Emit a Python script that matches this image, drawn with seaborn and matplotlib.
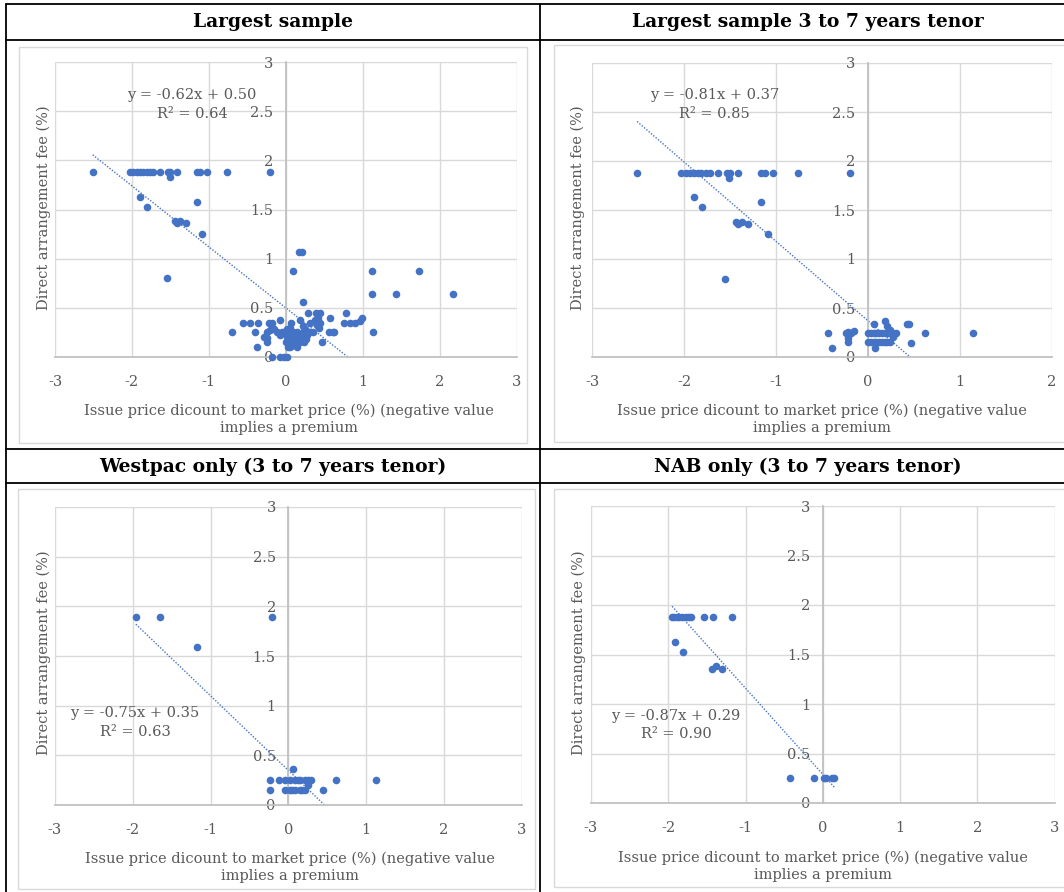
import matplotlib
matplotlib.use("Agg")
import matplotlib.pyplot as plt
from matplotlib.lines import Line2D
from matplotlib.patches import Rectangle
from matplotlib.ticker import FuncFormatter
import seaborn as sns
import pandas as pd

# ---- data ----
# high-fee group, shared by the two "largest sample" panels
hi_x = [-2.51, -2.03, -1.98, -1.94, -1.89, -1.85, -1.81, -1.76, -1.72, -1.63,
        -1.53, -1.50, -1.41, -1.16, -1.12, -1.03, -0.76, -0.20,
        -1.51, -1.89, -1.80, -1.16, -1.44, -1.41, -1.37, -1.30, -1.09, -1.55]
hi_y = [1.88, 1.88, 1.88, 1.88, 1.88, 1.88, 1.88, 1.88, 1.88, 1.88,
        1.88, 1.88, 1.88, 1.88, 1.88, 1.88, 1.88, 1.88,
        1.83, 1.63, 1.53, 1.58, 1.38, 1.36, 1.38, 1.36, 1.25, 0.80]

# low-fee points, full sample
all_lo_x = [0.17, 0.21, 0.09, 1.12, 1.73, 1.12, 1.43, 2.17, 0.22,
            -0.18, -0.07, -0.02, 0.02,
            -0.70, -0.56, -0.47, -0.36, -0.40, -0.37, -0.22, -0.18, -0.08,
            -0.25, -0.24, -0.24, -0.20, -0.15, -0.12, -0.08, -0.05, -0.02,
            0.00, 0.02, 0.04, 0.05, 0.06, 0.07, 0.08, 0.10, 0.10, 0.12,
            0.13, 0.15, 0.16, 0.18, 0.20, 0.22, 0.22, 0.24, 0.25, 0.28,
            0.30, 0.32, 0.35, 0.38, 0.40, 0.42, 0.45, 0.43, 0.29, 0.39,
            0.45, 0.47, 0.57, 0.56, 0.61, 0.63, 0.78, 0.76, 0.83, 0.90,
            0.96, 0.99, 1.14, -0.28, 0.05, 0.14, 0.19, 0.03, 0.09,
            0.06, 0.11, 0.17, 0.26, 0.01]
all_lo_y = [1.07, 1.07, 0.87, 0.87, 0.87, 0.64, 0.64, 0.64, 0.56,
            0.00, 0.00, 0.00, 0.00,
            0.25, 0.35, 0.35, 0.35, 0.25, 0.10, 0.35, 0.35, 0.38,
            0.25, 0.19, 0.15, 0.27, 0.28, 0.25, 0.22, 0.25, 0.25,
            0.15, 0.20, 0.25, 0.15, 0.10, 0.35, 0.20, 0.25, 0.12, 0.15,
            0.20, 0.25, 0.15, 0.38, 0.20, 0.25, 0.32, 0.15, 0.28, 0.22,
            0.25, 0.35, 0.25, 0.38, 0.33, 0.40, 0.35, 0.30, 0.45, 0.45,
            0.45, 0.15, 0.40, 0.25, 0.25, 0.25, 0.45, 0.35, 0.35, 0.35,
            0.37, 0.40, 0.25, 0.20, 0.30, 0.10, 0.15, 0.10, 0.18,
            0.22, 0.18, 0.22, 0.18, 0.28]

# low-fee points, 3 to 7 years tenor
t37_lo_x = [-0.43, -0.39, -0.24, -0.22, -0.18, -0.15, -0.22, -0.22,
            0.00, 0.03, 0.06, 0.09, 0.12, 0.15, 0.18, 0.21, 0.24, 0.27, 0.30,
            0.00, 0.03, 0.06, 0.09, 0.12, 0.15, 0.18, 0.21, 0.24,
            0.07, 0.18, 0.21, 0.24, 0.27, 0.42, 0.45, 0.47, 0.62, 0.08, 1.14]
t37_lo_y = [0.24, 0.09, 0.24, 0.26, 0.24, 0.27, 0.19, 0.15,
            0.24, 0.24, 0.24, 0.24, 0.24, 0.24, 0.24, 0.24, 0.24, 0.24, 0.24,
            0.15, 0.15, 0.15, 0.15, 0.15, 0.15, 0.15, 0.15, 0.15,
            0.34, 0.37, 0.32, 0.28, 0.20, 0.34, 0.34, 0.14, 0.24, 0.09, 0.25]

wbc_x = [-1.96, -1.65, -1.17, -0.21, 0.06, -0.24, -0.23,
         -0.12, -0.04, 0.02, 0.09, 0.15, 0.22, 0.29, 0.12, 0.26,
         -0.04, 0.02, 0.05, 0.09, 0.15, 0.18, 0.22, 0.25,
         0.45, 0.61, 1.13]
wbc_y = [1.89, 1.89, 1.59, 1.89, 0.36, 0.25, 0.15,
         0.25, 0.25, 0.25, 0.25, 0.25, 0.25, 0.25, 0.25, 0.25,
         0.15, 0.15, 0.15, 0.15, 0.15, 0.15, 0.15, 0.20,
         0.15, 0.25, 0.25]

nab_x = [-1.95, -1.92, -1.89, -1.86, -1.82, -1.77, -1.73, -1.71, -1.54, -1.42, -1.17,
         -1.91, -1.81, -1.43, -1.38, -1.30, -0.42, -0.11, 0.01, 0.04, 0.12, 0.15]
nab_y = [1.88, 1.88, 1.88, 1.88, 1.88, 1.88, 1.88, 1.88, 1.88, 1.88, 1.88,
         1.63, 1.53, 1.35, 1.38, 1.35, 0.25, 0.25, 0.25, 0.25, 0.25, 0.25]

titles = ["Largest sample", "Largest sample 3 to 7 years tenor",
          "Westpac only (3 to 7 years tenor)", "NAB only (3 to 7 years tenor)"]
slopes = [-0.62, -0.81, -0.75, -0.87]
intercepts = [0.50, 0.37, 0.35, 0.29]
r_squared = [0.64, 0.85, 0.63, 0.90]
x_limits = [(-3, 3), (-3, 2), (-3, 3), (-3, 3)]
x_label = "Issue price dicount to market price (%) (negative value\nimplies a premium"
y_label = "Direct arrangement fee (%)"

panels = [
    pd.DataFrame({"x": hi_x + all_lo_x, "y": hi_y + all_lo_y}),
    pd.DataFrame({"x": hi_x + t37_lo_x, "y": hi_y + t37_lo_y}),
    pd.DataFrame({"x": wbc_x, "y": wbc_y}),
    pd.DataFrame({"x": nab_x, "y": nab_y}),
]

# ---- layout (pixels) ----
W, H = 1064, 892
# plot area: left, right, top, bottom
plot_px = [(55, 516.5, 62, 357), (592, 1052, 63, 357),
           (55, 521.5, 507, 805), (591, 1054.5, 506, 803)]
frame_px = [(19, 527, 47, 443), (554, 1080, 45, 442),
            (18, 535, 489, 889), (554, 1080, 489, 887)]
# trendline label: x centre, y of equation line, y of R² line (data units)
label_pos = [(-1.22, 2.66, 2.47), (-1.67, 2.67, 2.48),
             (-1.97, 0.93, 0.73), (-1.90, 0.88, 0.70)]
title_px = [(273, 22), (808, 22), (273, 467), (808, 467)]
xlab_px = [(289, 419), (822, 419), (290, 867), (823, 866)]
ylab_px = [(44, 208), (578, 208), (44, 653), (579, 653)]

sns.set_theme(style="white")
plt.rcParams["font.family"] = ["DejaVu Serif"]
plt.rcParams["axes.unicode_minus"] = False

blue = "#4472C4"
grey_txt = "#595959"
grid_col = "#d9d9d9"

fig = plt.figure(figsize=(W / 100, H / 100), dpi=100)


def fx(px):
    return px / W


def fy(py):
    return 1 - py / H


# table borders
for yy in [4, 40, 449, 483]:
    fig.add_artist(Line2D([fx(6), 1], [fy(yy), fy(yy)], color="black", lw=1.3,
                          transform=fig.transFigure))
for xx in [6, 540]:
    fig.add_artist(Line2D([fx(xx), fx(xx)], [fy(4), 0], color="black", lw=1.3,
                          transform=fig.transFigure))

for i, df in enumerate(panels):
    l, r, t, b = plot_px[i]
    fl, fr, ft, fb = frame_px[i]
    fig.add_artist(Rectangle((fx(fl), fy(fb)), fx(fr) - fx(fl), (fb - ft) / H,
                             fill=False, edgecolor=grid_col, lw=1,
                             transform=fig.transFigure))
    fig.text(fx(title_px[i][0]), fy(title_px[i][1]), titles[i], ha="center",
             va="center", fontsize=13.5, fontweight="bold", color="black")

    ax = fig.add_axes([fx(l), fy(b), fx(r) - fx(l), (b - t) / H])
    ax.set_xlim(*x_limits[i])
    ax.set_ylim(0, 3)
    ax.set_xticks(range(x_limits[i][0], x_limits[i][1] + 1))
    ax.set_yticks([0, 0.5, 1, 1.5, 2, 2.5, 3])
    ax.grid(True, color=grid_col, lw=1)
    ax.set_axisbelow(True)
    fmt = FuncFormatter(lambda v, p: f"{v:g}")
    ax.xaxis.set_major_formatter(fmt)
    ax.yaxis.set_major_formatter(fmt)
    for s in ["top", "right"]:
        ax.spines[s].set_visible(False)
    ax.spines["left"].set_position(("data", 0))
    ax.spines["left"].set_color("#bfbfbf")
    ax.spines["bottom"].set_color("#bfbfbf")
    ax.tick_params(axis="both", length=0, labelsize=10.5, labelcolor=grey_txt)
    ax.tick_params(axis="x", pad=13)
    ax.tick_params(axis="y", pad=9)
    ax.patch.set_alpha(0)

    sns.scatterplot(data=df, x="x", y="y", ax=ax, color=blue, s=30,
                    linewidth=0, zorder=3, clip_on=False)

    xs = [df["x"].min(), df["x"].max()]
    ys = [slopes[i] * v + intercepts[i] for v in xs]
    ax.plot(xs, ys, color=blue, lw=1, linestyle=(0, (1, 1.2)), zorder=2)

    cx, y_eq, y_r2 = label_pos[i]
    ax.text(cx, y_eq, f"y = {slopes[i]:.2f}x + {intercepts[i]:.2f}", ha="center",
            va="center", fontsize=10.5, color=grey_txt)
    ax.text(cx, y_r2, f"R\u00b2 = {r_squared[i]:.2f}", ha="center",
            va="center", fontsize=10.5, color=grey_txt)
    ax.set_xlabel("")
    ax.set_ylabel("")

    fig.text(fx(xlab_px[i][0]), fy(xlab_px[i][1]), x_label, ha="center",
             va="center", fontsize=10.5, color=grey_txt, linespacing=1.3)
    fig.text(fx(ylab_px[i][0]), fy(ylab_px[i][1]), y_label, ha="center",
             va="center", rotation=90, fontsize=10.5, color=grey_txt)

fig.savefig("out.png", dpi=100)
